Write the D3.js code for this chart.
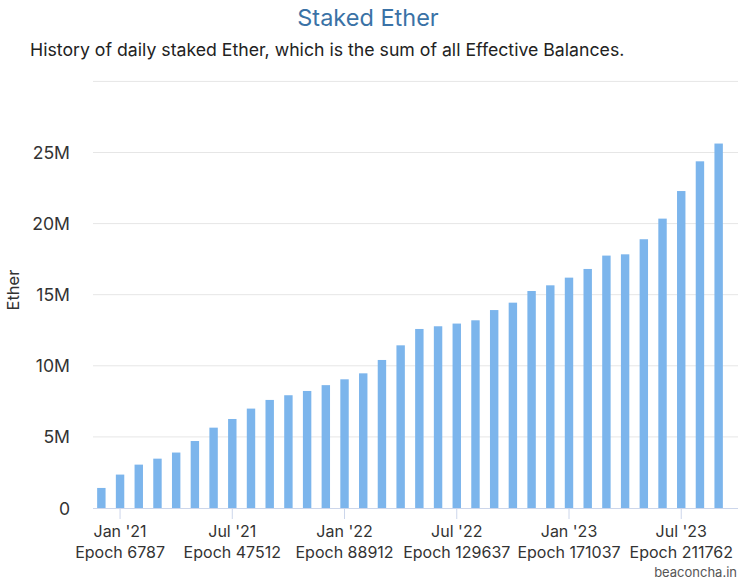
<!DOCTYPE html>
<html>
<head>
<meta charset="utf-8">
<script src="https://cdn.jsdelivr.net/npm/d3@7"></script>
<style>
    body { margin: 0; background: #fff; }
    svg { display: block; font-family: Inter, "Noto Sans", sans-serif; }
</style>
</head>
<body>
<svg id="chart" width="750" height="580"></svg>
<script>
// data
const months = [
    "Dec '20",
    "Jan '21", "Feb '21", "Mar '21", "Apr '21", "May '21", "Jun '21",
    "Jul '21", "Aug '21", "Sep '21", "Oct '21", "Nov '21", "Dec '21",
    "Jan '22", "Feb '22", "Mar '22", "Apr '22", "May '22", "Jun '22",
    "Jul '22", "Aug '22", "Sep '22", "Oct '22", "Nov '22", "Dec '22",
    "Jan '23", "Feb '23", "Mar '23", "Apr '23", "May '23", "Jun '23",
    "Jul '23", "Aug '23", "Sep '23"
]
// staked ether, millions
const staked = [
    1.41, 2.35, 3.05, 3.47, 3.90, 4.71, 5.65, 6.26, 6.99, 7.60, 7.93, 8.23,
    8.64, 9.05, 9.47, 10.41, 11.44, 12.59, 12.78, 12.97, 13.20, 13.92, 14.44,
    15.26, 15.66, 16.20, 16.81, 17.75, 17.84, 18.90, 20.35, 22.29, 24.38, 25.63
]
const tickMonths = ["Jan '21", "Jul '21", "Jan '22", "Jul '22", "Jan '23", "Jul '23"]
const tickEpochs = [6787, 47512, 88912, 129637, 171037, 211762]
const yTicks = [0, 5, 10, 15, 20, 25, 30]

let svg = d3.select('#chart')
let left = 93, right = 738, bottom = 508

// scales
let xScale = d3.scaleBand().domain(months).range([left - 1, 728]).paddingInner(0.55).paddingOuter(0.275)
let yScale = d3.scaleLinear().domain([0, 30]).range([bottom, bottom - 6 * 71.1])

// title
svg.append('text').attr('x', 368).attr('y', 26).attr('text-anchor', 'middle')
    .attr('font-size', 23.5).attr('fill', '#3a72a6').text('Staked Ether')
svg.append('text').attr('x', 30).attr('y', 56)
    .attr('font-size', 17.7).attr('fill', '#222').text('History of daily staked Ether, which is the sum of all Effective Balances.')

// grid
svg.append('g').selectAll('line').data(yTicks.slice(1)).enter().append('line')
    .attr('x1', left).attr('x2', right)
    .attr('y1', d => yScale(d)).attr('y2', d => yScale(d))
    .attr('stroke', '#e6e6e6').attr('stroke-width', 1)

// y labels
svg.append('g').selectAll('text').data(yTicks.slice(0, -1)).enter().append('text')
    .attr('x', 70).attr('y', d => yScale(d) + 6.5)
    .attr('text-anchor', 'end').attr('font-size', 17.6).attr('fill', '#333')
    .text(d => d === 0 ? '0' : d + 'M')
svg.append('text').attr('transform', 'translate(19,290) rotate(-90)')
    .attr('text-anchor', 'middle').attr('font-size', 16.5).attr('fill', '#333').text('Ether')

// bars
svg.append('g').selectAll('rect').data(staked).enter().append('rect')
    .attr('x', (d, i) => xScale(months[i]))
    .attr('width', xScale.bandwidth())
    .attr('y', d => yScale(d))
    .attr('height', d => bottom - yScale(d))
    .attr('fill', '#7cb5ec')

// x axis
svg.append('line').attr('x1', left).attr('x2', right).attr('y1', bottom + 0.5).attr('y2', bottom + 0.5)
    .attr('stroke', '#ccd6eb')
let ticks = svg.append('g').selectAll('g').data(tickMonths).enter().append('g')
    .attr('transform', d => 'translate(' + (xScale(d) + xScale.bandwidth() / 2) + ',0)')
ticks.append('line').attr('y1', bottom).attr('y2', bottom + 11).attr('stroke', '#ccd6eb')
ticks.append('text').attr('y', 537).attr('text-anchor', 'middle').attr('font-size', 16).attr('fill', '#333')
    .text(d => d)
ticks.append('text').attr('y', 558).attr('text-anchor', 'middle').attr('font-size', 16).attr('fill', '#333')
    .text((d, i) => 'Epoch ' + tickEpochs[i])

// credit
svg.append('text').attr('x', 737).attr('y', 577).attr('text-anchor', 'end')
    .attr('font-size', 13).attr('fill', '#555').text('beaconcha.in')
</script>
</body>
</html>
